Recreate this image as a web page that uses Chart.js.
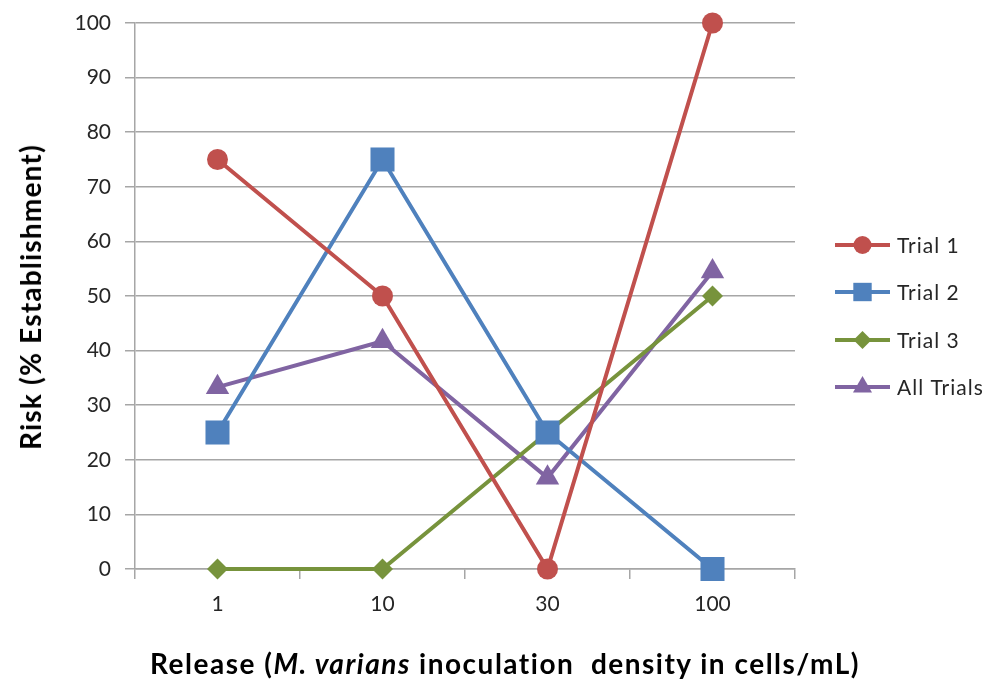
<!DOCTYPE html>
<html lang="en">
  <head>
    <meta charset="UTF-8" />
    <title>Risk chart</title>
    <script src="https://cdn.jsdelivr.net/npm/chart.js"></script>
    <style>
      body { margin: 0; background: #fff; }
      #wrap { position: relative; width: 989px; height: 679px; }
      #xtitle {
        position: absolute; left: 0; width: 1010px; top: 646px;
        text-align: center; font: bold 28px Lato, sans-serif; color: #000;
        letter-spacing: 1.5px; line-height: 34px; white-space: nowrap;
      }
      #ytitle {
        position: absolute; left: 30px; top: 297px;
        transform: translate(-50%, -50%) rotate(-90deg);
        font: bold 28px Lato, sans-serif; color: #000;
        letter-spacing: 1.2px; line-height: 34px; white-space: nowrap;
      }
    </style>
  </head>
  <body>
    <div id="wrap">
      <canvas id="myChart" width="989" height="679"></canvas>
      <div id="ytitle">Risk (% Establishment)</div>
      <div id="xtitle">Release (<i>M. varians</i> inoculation&nbsp; density in cells/mL)</div>
    </div>
    <script>
      var categories = ["1", "10", "30", "100"];
      var trial1 = [75, 50, 0, 100];
      var trial2 = [25, 75, 25, 0];
      var trial3 = [0, 0, 25, 50];
      var allTrials = [33.3, 41.7, 16.7, 54.5];
      var seriesNames = ["Trial 1", "Trial 2", "Trial 3", "All Trials"];

      var colors = ["#C0504D", "#4F81BD", "#77933C", "#8064A2"];
      var shapes = ["circle", "rect", "rectRot", "triangle"];
      var radii = [10.5, 17, 10.5, 13.5];
      var legendRadii = [9, 13, 9, 11];

      function makeSet(i, data) {
        return {
          label: seriesNames[i],
          data: data,
          borderColor: colors[i],
          backgroundColor: colors[i],
          pointBackgroundColor: colors[i],
          pointBorderColor: colors[i],
          pointBorderWidth: 0,
          pointStyle: shapes[i],
          pointRadius: radii[i],
          borderWidth: 4,
          tension: 0,
          fill: false,
          clip: false,
        };
      }

      // legend with line + marker, drawn to the right of the plot
      var sideLegend = {
        id: "sideLegend",
        afterDraw: function (chart) {
          var ctx = chart.ctx;
          var x0 = 835, x1 = 890, ys = [245, 292, 340, 387];
          chart.data.datasets.forEach(function (ds, i) {
            var y = ys[i];
            ctx.save();
            ctx.strokeStyle = ds.borderColor;
            ctx.lineWidth = 4;
            ctx.beginPath();
            ctx.moveTo(x0, y);
            ctx.lineTo(x1, y);
            ctx.stroke();
            ctx.fillStyle = ds.borderColor;
            Chart.helpers.drawPoint(ctx, { pointStyle: ds.pointStyle, radius: legendRadii[i], borderWidth: 0 }, (x0 + x1) / 2, y);
            ctx.fillStyle = "#262626";
            ctx.font = "21px Lato, sans-serif";
            ctx.letterSpacing = "1px";
            ctx.textBaseline = "middle";
            ctx.fillText(ds.label, 897, y + 1);
            ctx.restore();
          });
        },
      };

      var ctx = document.getElementById("myChart").getContext("2d");
      var lineChart = new Chart(ctx, {
        type: "line",
        data: {
          labels: categories,
          datasets: [
            makeSet(0, trial1),
            makeSet(1, trial2),
            makeSet(2, trial3),
            makeSet(3, allTrials),
          ],
        },
        options: {
          responsive: false,
          animation: false,
          layout: { padding: { left: 0, right: 194, top: 23, bottom: 0 } },
          plugins: {
            legend: { display: false },
            tooltip: { enabled: false },
          },
          scales: {
            x: {
              offset: true,
              grid: {
                offset: true,
                drawOnChartArea: false,
                drawTicks: true,
                tickLength: 10,
                color: "#A6A6A6",
                lineWidth: 1.5,
              },
              border: { color: "#A6A6A6", width: 1.5 },
              ticks: { padding: 13, color: "#262626", font: { family: "Lato", size: 21 } },
              afterFit: function (s) { s.height = 110; },
            },
            y: {
              min: 0,
              max: 100,
              ticks: { stepSize: 10, padding: 14, color: "#262626", font: { family: "Lato", size: 21 } },
              grid: { color: "#A6A6A6", lineWidth: 1.5, tickLength: 10 },
              border: { color: "#A6A6A6", width: 1.5 },
              afterFit: function (s) { s.width = 135; s.paddingTop = 0; s.paddingBottom = 0; },
            },
          },
        },
        plugins: [sideLegend],
      });
    </script>
  </body>
</html>
